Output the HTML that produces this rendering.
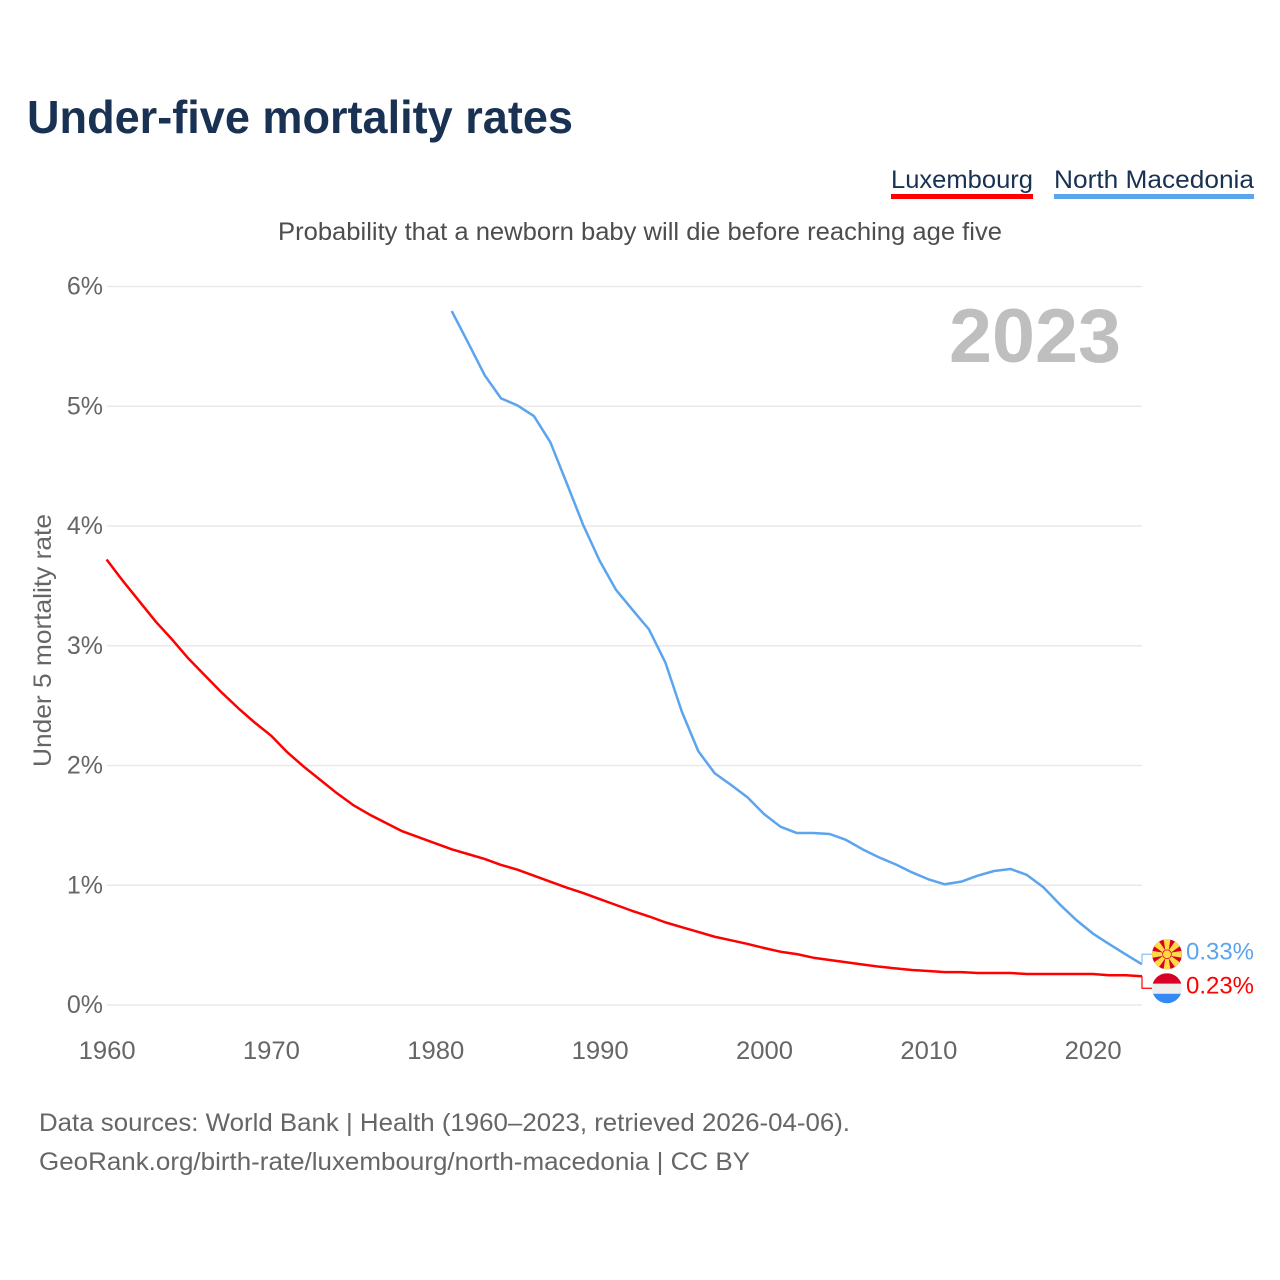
<!DOCTYPE html>
<html lang="en">
<head>
<meta charset="utf-8">
<title>Under-five mortality rates</title>
<style>
html,body{margin:0;padding:0;background:#fff}
svg{display:block}
text{font-family:"Liberation Sans",sans-serif}
</style>
</head>
<body>
<svg id="chart" xmlns="http://www.w3.org/2000/svg" width="1280" height="1280" viewBox="0 0 1280 1280">
  <rect width="1280" height="1280" fill="#fff"/>
  <text x="27" y="133" font-size="46" font-weight="700" fill="#193152" textLength="546" lengthAdjust="spacingAndGlyphs">Under-five mortality rates</text>

  <g>
    <text x="891" y="188" font-size="25" fill="#193152" textLength="142" lengthAdjust="spacingAndGlyphs">Luxembourg</text>
    <rect x="891" y="194" width="142" height="5" fill="#ff0000"/>
  </g>
  <g>
    <text x="1054" y="188" font-size="25" fill="#193152" textLength="200" lengthAdjust="spacingAndGlyphs">North Macedonia</text>
    <rect x="1054" y="194" width="200" height="5" fill="#5ba4ee"/>
  </g>

  <text x="278" y="240" font-size="25" fill="#4d4d4d" textLength="724" lengthAdjust="spacingAndGlyphs">Probability that a newborn baby will die before reaching age five</text>

  <g id="grid"></g>
  <g id="yticks"></g>
  <g id="xticks"></g>

  <text transform="translate(51,767) rotate(-90)" font-size="25" fill="#666" textLength="253" lengthAdjust="spacingAndGlyphs">Under 5 mortality rate</text>
  <text x="949" y="362" font-size="76" font-weight="700" fill="#bfbfbf" textLength="172" lengthAdjust="spacingAndGlyphs">2023</text>

  <g id="series"></g>
  <g id="ends"></g>

  <text x="39" y="1131" font-size="25" fill="#666" textLength="811" lengthAdjust="spacingAndGlyphs">Data sources: World Bank | Health (1960–2023, retrieved 2026-04-06).</text>
  <text x="39" y="1170" font-size="25" fill="#666" textLength="711" lengthAdjust="spacingAndGlyphs">GeoRank.org/birth-rate/luxembourg/north-macedonia | CC BY</text>

  <defs>
    <clipPath id="mk-clip"><circle cx="0" cy="0" r="15"/></clipPath>
    <clipPath id="lu-clip"><circle cx="0" cy="0" r="15"/></clipPath>
  </defs>
</svg>
<script>
const startYear = 1960;
const endYear = 2023;
const yTickValues = [0, 1, 2, 3, 4, 5, 6];
const yTickLabels = ["0%", "1%", "2%", "3%", "4%", "5%", "6%"];
const xTickValues = [1960, 1970, 1980, 1990, 2000, 2010, 2020];
const xTickLabels = ["1960", "1970", "1980", "1990", "2000", "2010", "2020"];

const luxembourgStart = 1960;
const luxembourgValues = [
  3.72, 3.54, 3.37, 3.20, 3.05, 2.89, 2.75, 2.61, 2.48, 2.36,
  2.25, 2.11, 1.99, 1.88, 1.77, 1.67, 1.59, 1.52, 1.45, 1.40,
  1.35, 1.30, 1.26, 1.22, 1.17, 1.13, 1.08, 1.03, 0.98, 0.935,
  0.885, 0.835, 0.785, 0.74, 0.69, 0.65, 0.61, 0.57, 0.54, 0.51,
  0.476, 0.445, 0.425, 0.395, 0.376, 0.357, 0.338, 0.32, 0.306, 0.292,
  0.284, 0.275, 0.275, 0.267, 0.267, 0.267, 0.259, 0.259, 0.259, 0.259,
  0.259, 0.248, 0.248, 0.24
];

const macedoniaStart = 1981;
const macedoniaValues = [
  5.795, 5.53, 5.26, 5.066, 5.007, 4.918, 4.70, 4.356, 4.008, 3.71,
  3.466, 3.30, 3.137, 2.86, 2.45, 2.12, 1.935, 1.837, 1.734, 1.595,
  1.489, 1.436, 1.436, 1.428, 1.378, 1.30, 1.233, 1.175, 1.108, 1.05,
  1.008, 1.03, 1.08, 1.119, 1.136, 1.086, 0.983, 0.84, 0.71, 0.598,
  0.509, 0.423, 0.34
];

const luxembourgLabel = "0.23%";
const macedoniaLabel = "0.33%";

const NS = "http://www.w3.org/2000/svg";
function xScale(year) { return 106.6 + (year - startYear) * (1142 - 106.6) / (endYear - startYear); }
function yScale(v) { return 1005 - v * 119.75; }

function make(tag, attrs, parent, txt) {
  const el = document.createElementNS(NS, tag);
  for (const k in attrs) el.setAttribute(k, attrs[k]);
  if (txt !== undefined) el.textContent = txt;
  parent.appendChild(el);
  return el;
}

const grid = document.getElementById("grid");
const yticks = document.getElementById("yticks");
const xticks = document.getElementById("xticks");
const series = document.getElementById("series");
const ends = document.getElementById("ends");

yTickValues.forEach(function (v, i) {
  const line = make("line", {x1: 107, x2: 1142, y1: yScale(v), y2: yScale(v), stroke: "#e9e9e9", "stroke-width": 1.5}, grid);
  
  
  const t = make("text", {x: 103, y: yScale(v) + 8, "text-anchor": "end", "font-size": 25, fill: "#666"}, yticks, yTickLabels[i]);
  
  
});

xTickValues.forEach(function (v, i) {
  const t = make("text", {x: xScale(v) + 0.5, y: 1059, "text-anchor": "middle", "font-size": 25, fill: "#666", textLength: 57, lengthAdjust: "spacingAndGlyphs"}, xticks, xTickLabels[i]);
  
  
});

function linePoints(start, values) {
  return values.map(function (v, i) { return xScale(start + i).toFixed(2) + "," + yScale(v).toFixed(2); }).join(" ");
}

const macLine = make("polyline", {points: linePoints(macedoniaStart, macedoniaValues), fill: "none", stroke: "#5ba4ee", "stroke-width": 2.5, "stroke-linejoin": "round"}, series);



const luxLine = make("polyline", {points: linePoints(luxembourgStart, luxembourgValues), fill: "none", stroke: "#ff0000", "stroke-width": 2.5, "stroke-linejoin": "round"}, series);



const macEndY = yScale(macedoniaValues[macedoniaValues.length - 1]);
const luxEndY = yScale(luxembourgValues[luxembourgValues.length - 1]);
const macLabelY = macEndY - 10;
const luxLabelY = luxEndY + 12;
const endX = xScale(endYear);

const macConn = make("polyline", {points: endX + "," + macEndY + " " + endX + "," + macLabelY + " " + (endX + 10) + "," + macLabelY, fill: "none", stroke: "#8dc0f3", "stroke-width": 1.2}, ends);



const luxConn = make("polyline", {points: endX + "," + luxEndY + " " + endX + "," + luxLabelY + " " + (endX + 10) + "," + luxLabelY, fill: "none", stroke: "#ff0000", "stroke-width": 1.2}, ends);



/* North Macedonia flag */
const mk = make("g", {transform: "translate(1167," + macLabelY + ")", "clip-path": "url(#mk-clip)"}, ends);


make("rect", {x: -15, y: -15, width: 30, height: 30, fill: "#d80027"}, mk);
[0, 45, 90, 135, 180, 225, 270, 315].forEach(function (a) {
  make("polygon", {points: "-3.6,-16 3.6,-16 1,0 -1,0", fill: "#ffda44", transform: "rotate(" + a + ")"}, mk);
});
make("circle", {cx: 0, cy: 0, r: 4.4, fill: "#ffda44", stroke: "#d80027", "stroke-width": 0.8}, mk);

/* Luxembourg flag */
const lu = make("g", {transform: "translate(1167," + luxLabelY + ")", "clip-path": "url(#lu-clip)"}, ends);


make("rect", {x: -15, y: -15, width: 30, height: 10.5, fill: "#d80027"}, lu);
make("rect", {x: -15, y: -4.5, width: 30, height: 10, fill: "#eeeeee"}, lu);
make("rect", {x: -15, y: 5.5, width: 30, height: 10, fill: "#338af3"}, lu);

const macVal = make("text", {x: 1186, y: macLabelY + 5, "font-size": 24, fill: "#5ba4ee", textLength: 68, lengthAdjust: "spacingAndGlyphs"}, ends, macedoniaLabel);



const luxVal = make("text", {x: 1186, y: luxLabelY + 5, "font-size": 24, fill: "#ff0000", textLength: 68, lengthAdjust: "spacingAndGlyphs"}, ends, luxembourgLabel);


</script>
</body>
</html>
